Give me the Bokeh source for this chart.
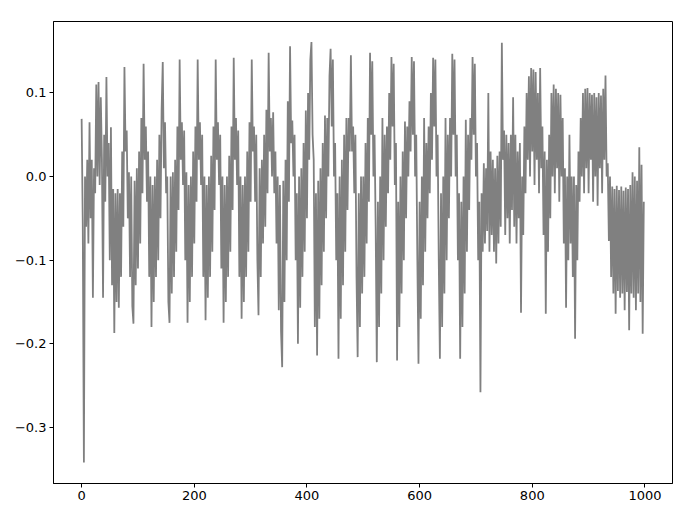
from bokeh.plotting import figure
from bokeh.models import Range1d, FixedTicker, CustomJSTickFormatter
from bokeh.embed import file_html
from bokeh.resources import INLINE

y_000 = [0.069, -0.056, -0.342, 0.0, -0.06, 0.02, -0.08, 0.065, -0.05, 0.02,
         -0.145, 0.01, -0.02, 0.11, 0.0, 0.113, -0.01, 0.095, 0.02, -0.145,
         0.05, -0.03, 0.119, 0.0, 0.04, -0.1, 0.059, -0.13, -0.015, -0.187,
         -0.02, -0.15, -0.015, -0.157, -0.02, -0.12, 0.03, -0.06, 0.131, 0.03,
         0.055, -0.05, 0.005, -0.12, 0.0, -0.155, -0.176, -0.005, -0.13, 0.01]
y_100 = [-0.11, 0.03, -0.08, 0.07, -0.02, 0.135, 0.02, 0.06, -0.03, 0.03,
         -0.12, 0.0, -0.18, -0.01, -0.15, 0.0, -0.12, 0.02, -0.1, 0.05,
         -0.05, 0.08, 0.137, 0.01, 0.065, -0.02, 0.0, -0.15, -0.175, 0.0,
         -0.14, 0.005, -0.12, 0.02, -0.09, 0.06, -0.04, 0.14, 0.02, 0.065,
         -0.01, 0.055, -0.1, 0.005, -0.175, -0.01, -0.15, 0.0, -0.12, 0.03]
y_200 = [-0.08, 0.06, -0.03, 0.14, 0.02, 0.065, -0.01, 0.05, -0.12, 0.0,
         -0.172, -0.01, -0.145, 0.0, -0.12, 0.025, -0.09, 0.06, -0.04, 0.14,
         0.02, 0.065, -0.01, 0.05, -0.11, 0.0, -0.175, -0.01, -0.15, 0.0,
         -0.12, 0.025, -0.09, 0.06, -0.04, 0.142, 0.02, 0.07, -0.01, 0.055,
         -0.12, 0.0, -0.17, -0.01, -0.15, 0.0, -0.12, 0.03, -0.09, 0.065]
y_300 = [-0.03, 0.14, 0.03, 0.06, -0.03, 0.05, -0.1, -0.166, 0.01, -0.12,
         0.02, -0.08, 0.05, -0.06, 0.08, -0.02, 0.148, 0.03, 0.07, 0.0,
         0.077, -0.02, 0.03, -0.08, 0.0, -0.16, -0.01, -0.185, -0.228, -0.005,
         -0.15, 0.02, -0.1, 0.09, -0.03, 0.156, 0.04, 0.067, 0.0, 0.05,
         -0.1, -0.02, -0.2, 0.0, -0.157, 0.01, -0.12, 0.04, -0.09, 0.079]
y_400 = [-0.05, 0.1, 0.02, 0.14, 0.161, 0.05, 0.02, -0.18, -0.02, -0.214,
         -0.005, -0.17, 0.01, -0.13, 0.04, -0.09, 0.073, -0.05, 0.07, 0.0,
         0.12, 0.153, 0.06, 0.14, 0.0, 0.04, -0.1, -0.02, -0.218, 0.0,
         -0.17, 0.02, -0.13, 0.05, -0.09, 0.07, -0.04, 0.07, 0.03, 0.145,
         0.03, 0.06, -0.02, 0.05, -0.12, -0.216, -0.02, -0.18, 0.0, -0.14]
y_500 = [0.0, -0.12, 0.04, -0.08, 0.07, -0.03, 0.148, 0.05, 0.138, 0.0,
         0.05, -0.06, -0.222, -0.03, -0.18, 0.0, -0.14, 0.07, -0.1, 0.05,
         -0.06, 0.06, -0.02, 0.1, 0.02, 0.143, 0.06, 0.135, -0.01, 0.04,
         -0.22, -0.03, -0.18, 0.0, -0.14, 0.03, -0.1, 0.066, -0.05, 0.06,
         0.0, 0.09, 0.03, 0.143, 0.05, 0.138, 0.0, 0.05, -0.1, -0.224]
y_600 = [-0.03, -0.17, 0.0, -0.13, 0.07, -0.09, 0.04, -0.05, 0.06, -0.02,
         0.1, 0.02, 0.142, 0.06, 0.14, 0.0, 0.05, -0.1, -0.218, -0.02,
         -0.18, 0.0, -0.14, 0.07, -0.1, 0.05, -0.05, 0.07, 0.0, 0.147,
         0.05, 0.14, 0.0, 0.05, -0.1, -0.02, -0.218, -0.03, -0.18, 0.0,
         -0.14, 0.068, -0.09, 0.05, -0.04, 0.07, 0.02, 0.143, 0.05, 0.135]
y_700 = [0.0, 0.04, -0.1, -0.03, -0.258, -0.02, -0.09, 0.016, -0.08, 0.01,
         -0.065, 0.1, -0.09, 0.03, -0.07, 0.02, -0.09, 0.01, -0.104, 0.025,
         -0.08, 0.03, -0.06, 0.16, 0.02, 0.055, -0.07, 0.05, -0.05, 0.04,
         -0.08, 0.05, -0.04, 0.095, -0.06, 0.05, -0.08, 0.03, -0.05, 0.04,
         -0.163, 0.0, -0.07, 0.06, -0.02, 0.1, 0.02, 0.12, 0.0, 0.13]
y_800 = [0.03, 0.128, -0.01, 0.125, 0.02, 0.1, -0.02, 0.13, 0.01, 0.06,
         -0.07, 0.03, -0.164, 0.02, -0.09, 0.05, -0.05, 0.1, 0.0, 0.11,
         -0.02, 0.105, 0.01, 0.1, -0.03, 0.098, 0.0, 0.07, -0.08, 0.01,
         -0.157, 0.0, -0.1, 0.05, -0.08, 0.0, -0.12, 0.0, -0.194, -0.01,
         -0.1, 0.03, -0.03, 0.07, 0.0, 0.1, -0.02, 0.105, 0.01, 0.106]
y_900 = [-0.02, 0.1, 0.02, 0.098, -0.03, 0.1, 0.0, 0.095, -0.035, 0.1,
         0.01, 0.097, -0.02, 0.105, 0.02, 0.121, 0.0, 0.016, -0.077, 0.0,
         -0.12, -0.012, -0.14, -0.015, -0.164, -0.011, -0.137, -0.016, -0.145, -0.012,
         -0.14, -0.017, -0.16, -0.013, -0.138, -0.015, -0.184, -0.01, -0.14, 0.005,
         -0.145, 0.0, -0.16, -0.005, -0.14, 0.035, -0.15, 0.014, -0.188, -0.03]

x_step = 2
x_ticks = [0, 200, 400, 600, 800, 1000]
y_ticks = [-0.3, -0.2, -0.1, 0.0, 0.1]

ys = y_000 + y_100 + y_200 + y_300 + y_400 + y_500 + y_600 + y_700 + y_800 + y_900
xs = [i * x_step for i in range(len(ys))]

p = figure(width=678, height=507, output_backend="svg", toolbar_location=None,
           x_range=Range1d(-49.95, 1048.95), y_range=Range1d(-0.3672, 0.1855),
           min_border_left=53, min_border_right=6, min_border_top=21, min_border_bottom=24)

p.line(xs, ys, line_color="#808080", line_width=1.8)

p.grid.visible = False
p.outline_line_color = "black"
p.outline_line_width = 1
p.background_fill_color = "white"
p.border_fill_color = "white"

for ax in (p.xaxis[0], p.yaxis[0]):
    ax.axis_line_color = "black"
    ax.major_tick_line_color = "black"
    ax.major_tick_out = 4
    ax.major_tick_in = 0
    ax.minor_tick_line_color = None
    ax.major_label_standoff = 3
    ax.major_label_text_font = "DejaVu Sans"
    ax.major_label_text_font_size = "13px"
    ax.major_label_text_color = "black"

p.xaxis[0].ticker = FixedTicker(ticks=x_ticks)
p.yaxis[0].ticker = FixedTicker(ticks=y_ticks)
p.xaxis[0].formatter = CustomJSTickFormatter(code="return tick.toFixed(0);")
p.yaxis[0].formatter = CustomJSTickFormatter(
    code="return (tick < -1e-9 ? '\u2212' : '') + Math.abs(tick).toFixed(1);")

open("out.html", "w").write(file_html(p, INLINE))
